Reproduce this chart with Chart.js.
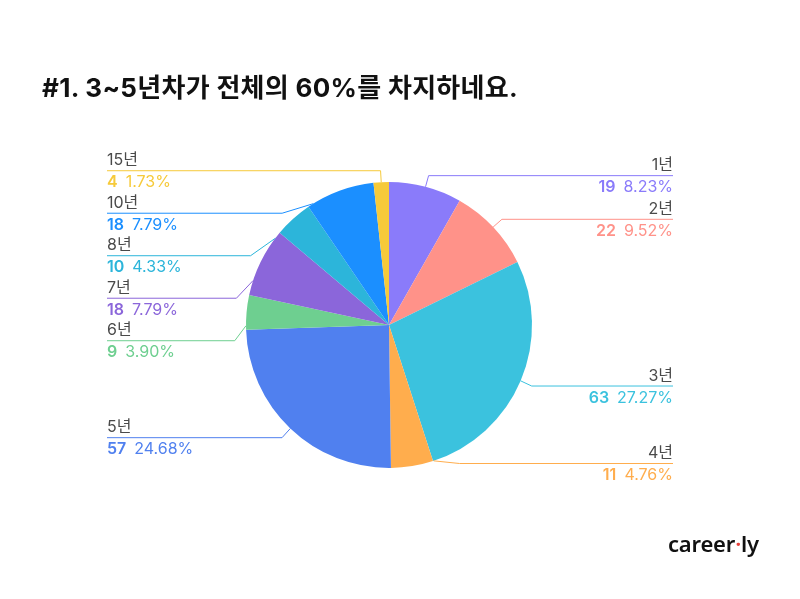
<!DOCTYPE html>
<html>
<head>
<meta charset="utf-8">
<script src="https://cdn.jsdelivr.net/npm/chart.js@4"></script>
<style>
    body { margin: 0; background: #fff; }
    .wrap { position: relative; width: 800px; height: 599px; }
    .title {
        position: absolute; left: 42px; top: 67px; margin: 0;
        font: bold 26px Inter, "Noto Sans CJK KR", sans-serif; color: #111; letter-spacing: 0.3px;
    }
    .logo {
        position: absolute; left: 668px; top: 528px;
        font: 600 22px "Noto Sans", sans-serif; color: #111; letter-spacing: -0.2px;
    }
    .logo span { color: #e8403a; }
</style>
</head>
<body>
<div class="wrap">
    <canvas id="pie" width="800" height="599"></canvas>
    <h1 class="title">#1. 3~5년차가 전체의 60%를 차지하네요.</h1>
    <div class="logo">career<span>·</span>ly</div>
</div>
<script>
const labels = ['1년', '2년', '3년', '4년', '5년', '6년', '7년', '8년', '10년', '15년'];
const counts = [19, 22, 63, 11, 57, 9, 18, 10, 18, 4];
const colors = ['#8a7bfa', '#ff9289', '#3bc2de', '#ffad4d', '#5080ef', '#6ecf90', '#8b66da', '#2cb5da', '#1b8fff', '#f6ca3a'];

const total = counts.reduce((a, b) => a + b, 0);

const sideLabels = {
    id: 'sideLabels',
    afterDatasetsDraw(chart) {
        let ctx = chart.ctx;
        let arcs = chart.getDatasetMeta(0).data;
        let gap = 42.5;
        let maxY = chart.chartArea.bottom - 5;

        let items = arcs.map((arc, i) => {
            let mid = (arc.startAngle + arc.endAngle) / 2;
            let r2 = arc.outerRadius + 12;
            return {i, arc, mid, r2, right: Math.cos(mid) >= 0, y: arc.y + Math.sin(mid) * r2};
        });

        [true, false].forEach(side => {
            let list = items.filter(it => it.right === side).sort((a, b) => a.y - b.y);
            for (let k = 1; k < list.length; k++) {
                list[k].y = Math.max(list[k].y, list[k - 1].y + gap);
            }
            if (list.length && list[list.length - 1].y > maxY) {
                list[list.length - 1].y = maxY;
                for (let k = list.length - 2; k >= 0; k--) {
                    list[k].y = Math.min(list[k].y, list[k + 1].y - gap);
                }
            }
        });

        ctx.save();
        items.forEach(it => {
            let {arc, mid, r2, right, y, i} = it;
            let cx = arc.x, cy = arc.y;
            let dy = y - cy;
            let dx = Math.abs(dy) < r2 ? Math.sqrt(r2 * r2 - dy * dy) : 0;
            let ex = right ? cx + dx : cx - dx;

            // start point sits between the slice middle and the elbow direction
            let ea = Math.atan2(dy, ex - cx);
            let sx = Math.cos(mid) + Math.cos(ea);
            let sy = Math.sin(mid) + Math.sin(ea);
            let sa = Math.atan2(sy, sx);
            let px = cx + Math.cos(sa) * arc.outerRadius;
            let py = cy + Math.sin(sa) * arc.outerRadius;

            let edge = right ? 673 : 107;
            let color = colors[i];

            ctx.strokeStyle = color;
            ctx.lineWidth = 1;
            ctx.beginPath();
            ctx.moveTo(px, py);
            ctx.lineTo(ex, y + 0.5);
            ctx.lineTo(edge, y + 0.5);
            ctx.stroke();

            ctx.textAlign = right ? 'right' : 'left';
            ctx.textBaseline = 'alphabetic';
            ctx.fillStyle = '#4a4a4a';
            ctx.font = '16px Inter, "Noto Sans CJK KR", sans-serif';
            ctx.fillText(labels[i], edge, y - 5);

            let num = String(counts[i]);
            let pct = (counts[i] / total * 100).toFixed(2) + '%';
            let boldFont = '600 16px Inter, "Noto Sans CJK KR", sans-serif';
            let normFont = '16px Inter, "Noto Sans CJK KR", sans-serif';
            ctx.fillStyle = color;
            if (right) {
                ctx.font = normFont;
                let pw = ctx.measureText(pct).width;
                ctx.fillText(pct, edge, y + 17);
                ctx.font = boldFont;
                ctx.fillText(num, edge - pw - 8, y + 17);
            } else {
                ctx.font = boldFont;
                let nw = ctx.measureText(num).width;
                ctx.fillText(num, edge, y + 17);
                ctx.font = normFont;
                ctx.fillText(pct, edge + nw + 8, y + 17);
            }
        });
        ctx.restore();
    }
};

new Chart(document.getElementById('pie'), {
    type: 'pie',
    data: {
        labels: labels,
        datasets: [
            {
                data: counts,
                backgroundColor: colors,
                borderWidth: 0,
            }
        ]
    },
    options: {
        responsive: false,
        animation: false,
        layout: {
            padding: {left: 200, right: 222, top: 182, bottom: 131}
        },
        plugins: {
            legend: {display: false},
            tooltip: {enabled: false}
        }
    },
    plugins: [sideLabels]
});
</script>
</body>
</html>
